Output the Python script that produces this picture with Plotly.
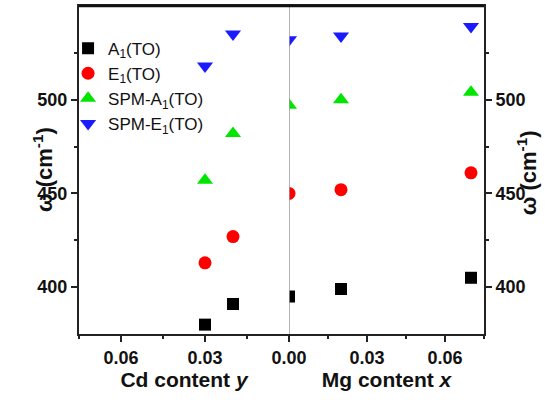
import plotly.graph_objects as go

# Cd side (left panel, reversed axis)
cd_y = [0.03, 0.02]
cd_A1 = [380, 391]
cd_E1 = [413, 427]
cd_SA1 = [457, 482]
cd_SE1 = [518, 535]

# Mg side (right panel)
mg_x = [0.0, 0.02, 0.07]
mg_A1 = [395, 399, 405]
mg_E1 = [450, 452, 461]
mg_SA1 = [497, 500, 504]
mg_SE1 = [532, 534, 539]

names = ["A<sub>1</sub>(TO)", "E<sub>1</sub>(TO)", "SPM-A<sub>1</sub>(TO)", "SPM-E<sub>1</sub>(TO)"]
symbols = ["square", "circle", "triangle-up", "triangle-down"]
sizes = [12, 13, 14, 14]
colors = ["#000000", "#ff0000", "#00e600", "#1a1aff"]

cd_series = [cd_A1, cd_E1, cd_SA1, cd_SE1]
mg_series = [mg_A1, mg_E1, mg_SA1, mg_SE1]

fig = go.Figure()
for i in range(4):
    fig.add_trace(go.Scatter(x=cd_y, y=cd_series[i], mode="markers", name=names[i],
                             marker=dict(symbol=symbols[i], size=sizes[i], color=colors[i]),
                             xaxis="x", yaxis="y", showlegend=True))
for i in range(4):
    fig.add_trace(go.Scatter(x=mg_x, y=mg_series[i], mode="markers", name=names[i],
                             marker=dict(symbol=symbols[i], size=sizes[i], color=colors[i]),
                             xaxis="x2", yaxis="y2", showlegend=False))

FONT = "Liberation Sans, Arial, sans-serif"
tickfont = dict(family=FONT, size=18, color="#111", weight="bold")
axcol = "#222"
split = (289 - 79) / 405

common_x = dict(showline=True, linecolor=axcol, linewidth=2, mirror=True, ticks="outside",
                ticklen=6, tickwidth=2, tickcolor=axcol, showgrid=False, zeroline=False,
                tickfont=tickfont, tickformat=".2f", automargin=False,
                minor=dict(ticks="outside", ticklen=3, tickwidth=2, tickcolor=axcol,
                           tickvals=[0.015, 0.045, 0.075], showgrid=False))

common_y = dict(range=[375, 550], tickvals=[400, 450, 500],
                showline=True, linecolor=axcol, linewidth=2, ticks="outside", ticklen=6,
                tickwidth=2, tickcolor=axcol, showgrid=False, zeroline=False, tickfont=tickfont,
                automargin=False,
                minor=dict(ticks="outside", ticklen=3, tickwidth=2, tickcolor=axcol,
                           tickvals=[425, 475, 525], showgrid=False))

xtitle_font = dict(family=FONT, size=21, color="#111", weight="bold")
ytitle_font = dict(family=FONT, size=22, color="#111", weight="bold")

fig.update_layout(
    width=553, height=400,
    margin=dict(l=79, r=69, t=6, b=66, autoexpand=False),
    plot_bgcolor="white", paper_bgcolor="white",
    xaxis=dict(domain=[0, split], range=[0.075, 0], tickvals=[0.06, 0.03],
               anchor="y", title=dict(text="Cd content <i>y</i>", font=xtitle_font, standoff=6),
               **common_x),
    xaxis2=dict(domain=[split, 1], range=[0, 0.075], tickvals=[0.0, 0.03, 0.06],
                anchor="y2", title=dict(text="Mg content <i>x</i>", font=xtitle_font, standoff=6),
                **common_x),
    yaxis=dict(anchor="x", side="left", **common_y),
    yaxis2=dict(anchor="x2", side="right", **common_y),
    legend=dict(x=-0.027, y=0.925, xanchor="left", yanchor="top", bgcolor="rgba(0,0,0,0)",
                font=dict(family=FONT, size=17, color="#111"), tracegroupgap=0),
    shapes=[
        dict(type="line", xref="x2", yref="paper", x0=0, x1=0, y0=0, y1=1,
             line=dict(color="#9a9a9a", width=1.5)),
        dict(type="line", xref="paper", yref="paper", x0=0, x1=1, y0=1, y1=1,
             line=dict(color="#111", width=2.5)),
    ],
    annotations=[
        dict(text="ω (cm<sup>-1</sup>)", xref="paper", yref="paper", x=0, y=0.5,
             xshift=-52, textangle=-90, showarrow=False, font=ytitle_font),
        dict(text="ω (cm<sup>-1</sup>)", xref="paper", yref="paper", x=1, y=0.49,
             xshift=59, textangle=-90, showarrow=False, font=ytitle_font),
    ],
)

fig.write_html("out.html", config={"displayModeBar": False},
               post_script="document.body.style.margin='0';document.body.style.overflow='hidden';")
